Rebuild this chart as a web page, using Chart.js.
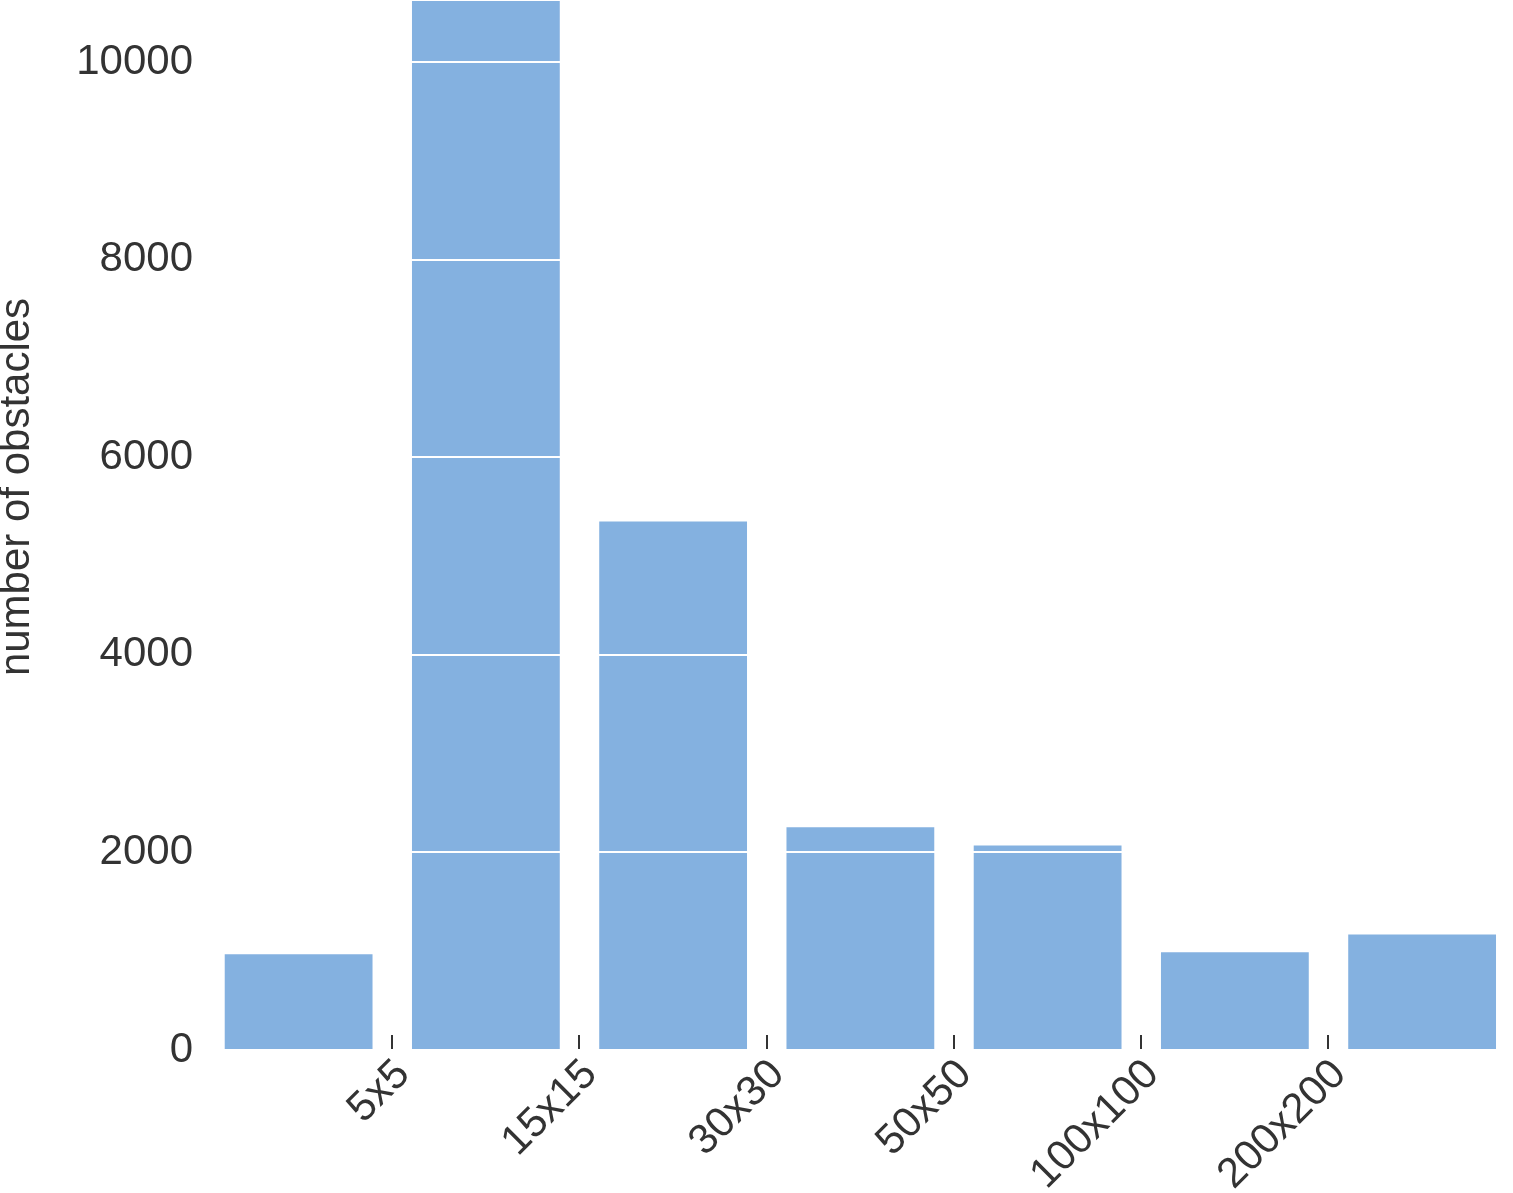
<!DOCTYPE html>
<html>
<head>
<meta charset="utf-8">
<title>number of obstacles</title>
<script src="https://cdn.jsdelivr.net/npm/chart.js@4.4.1/dist/chart.umd.min.js"></script>
<style>
  html, body { margin: 0; padding: 0; background: #fff; overflow: hidden; }
  #wrap { width: 1513px; height: 1193px; overflow: hidden; }
  /* the axes run 76px above the picture, the tall bar is cut by the edge */
  #obstacles { display: block; margin-top: -76px; }
</style>
</head>
<body>
<div id="wrap"><canvas id="obstacles" width="1513" height="1269"></canvas></div>
<script>
// bin edges (tick labels sit between the bars) and the count in each bin
const binEdges = ['5x5', '15x15', '30x30', '50x50', '100x100', '200x200'];
const binCounts = [980, 10630, 5360, 2265, 2080, 1000, 1180];
const yTicks = [0, 2000, 4000, 6000, 8000, 10000];

const barColor = '#84b1e0';
const textColor = '#333333';

Chart.defaults.font.family = 'Arial, "Liberation Sans", sans-serif';
Chart.defaults.color = textColor;

// each bar sits in the middle of its bin, edges are on the integers
const points = binCounts.map((v, i) => ({ x: i + 0.5, y: v }));

const ctx = document.getElementById('obstacles').getContext('2d');
const chart = new Chart(ctx, {
  type: 'bar',
  data: {
    datasets: [{
      data: points,
      backgroundColor: barColor,
      borderColor: 'rgba(255,255,255,0.45)',
      borderWidth: 1,
      barPercentage: 0.8,
      categoryPercentage: 1.0
    }]
  },
  options: {
    responsive: false,
    animation: false,
    layout: { padding: { top: 0, left: 0, right: 1, bottom: 0 } },
    plugins: {
      legend: { display: false },
      tooltip: { enabled: false }
    },
    scales: {
      x: {
        type: 'linear',
        position: 'bottom',
        offset: false,
        min: 0,
        max: 6.98,
        afterFit: (s) => {
          s.height = 143;
          s.paddingLeft = 0;
          s.paddingRight = 0;
        },
        afterBuildTicks: (s) => {
          s.ticks = binEdges.map((_, i) => ({ value: i + 1 }));
        },
        border: { display: false },
        grid: {
          offset: false,
          drawOnChartArea: false,
          drawTicks: true,
          tickLength: -15,
          color: textColor,
          lineWidth: 2
        },
        ticks: {
          autoSkip: false,
          maxRotation: 45,
          minRotation: 45,
          padding: 15,
          labelOffset: 11,
          font: { size: 42 },
          color: textColor,
          callback: (value) => binEdges[value - 1]
        }
      },
      y: {
        min: 0,
        max: 11400,
        afterFit: (s) => {
          s.width = 205;
          s.paddingTop = 0;
        },
        afterBuildTicks: (s) => {
          s.ticks = yTicks.map(v => ({ value: v }));
        },
        border: { display: false },
        grid: {
          color: '#ffffff',
          lineWidth: 2,
          drawTicks: false,
          z: 1
        },
        ticks: {
          padding: 12,
          font: { size: 42 },
          color: textColor,
          callback: (value) => String(value)
        },
        title: {
          display: true,
          text: 'number of obstacles',
          color: textColor,
          font: { size: 42, lineHeight: 0.85 },
          padding: 0
        }
      }
    }
  }
});
</script>
</body>
</html>
